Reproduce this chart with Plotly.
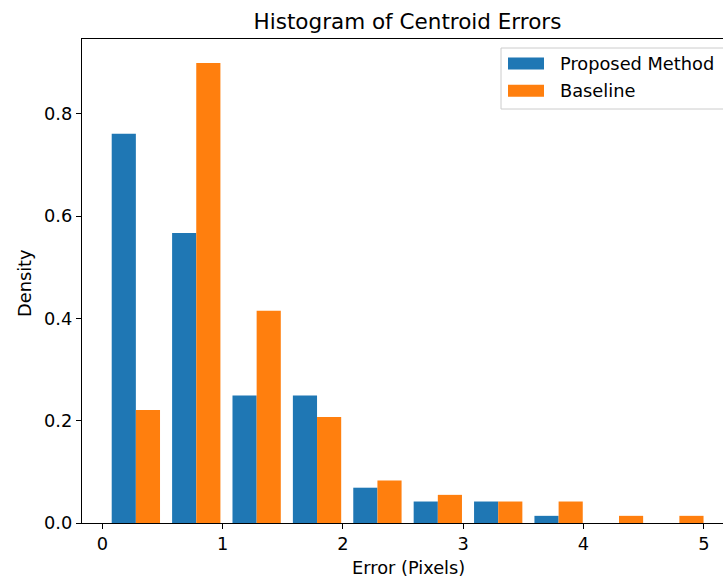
import plotly.graph_objects as go

# ---- data ----
bin_start = 0.028
bin_width = 0.502
n_bins = 10
proposed_density = [0.761, 0.567, 0.249, 0.249, 0.069, 0.042, 0.042, 0.014, 0.0, 0.0]
baseline_density = [0.221, 0.899, 0.415, 0.207, 0.083, 0.055, 0.042, 0.042, 0.014, 0.014]
series_names = ["Proposed Method", "Baseline"]
series_colors = ["#1f77b4", "#ff7f0e"]
x_ticks = [0, 1, 2, 3, 4, 5]
y_ticks = [0.0, 0.2, 0.4, 0.6, 0.8]

centers = [bin_start + (i + 0.5) * bin_width for i in range(n_bins)]

W, H = 723, 579
L, R, T, B = 82, 723, 39, 523
FONT = "DejaVu Sans"
FS = 17.8

def px(X):
    return (X - L) / (R - L)

def py(Y):
    return (B - Y) / (B - T)

fig = go.Figure()
for vals, name, col, off in [
    (proposed_density, series_names[0], series_colors[0], -0.4),
    (baseline_density, series_names[1], series_colors[1], 0.0),
]:
    fig.add_trace(go.Bar(
        x=centers, y=vals, name=name,
        width=[0.4 * bin_width] * n_bins,
        offset=[off * bin_width] * n_bins,
        marker=dict(color=col, line=dict(width=0)),
        showlegend=False,
    ))

ax_common = dict(
    showgrid=False, zeroline=False, showline=True, linecolor="black", linewidth=1.2,
    ticks="outside", ticklen=5, tickwidth=1.2, tickcolor="black",
    tickfont=dict(family=FONT, size=FS, color="black"),
)
fig.update_layout(
    width=W, height=H,
    margin=dict(l=L, r=W - R, t=T, b=H - B),
    paper_bgcolor="white", plot_bgcolor="white",
    barmode="overlay",
    font=dict(family=FONT, color="black"),
    title=dict(text="Histogram of Centroid Errors", x=(L + 733) / 2 / W, xanchor="center",
               y=1 - 21 / H, yanchor="middle", yref="container",
               font=dict(family=FONT, size=21.5, color="black")),
    xaxis=dict(range=[(L - 102.3) / 120.3, (R - 102.3) / 120.3], tickvals=x_ticks,
               mirror=True, **ax_common),
    yaxis=dict(range=[0, 0.946], tickvals=y_ticks, tickformat=".1f", mirror=False, **ax_common),
)

ann = []
ann.append(dict(text="Error (Pixels)", xref="paper", yref="paper", x=px(408), y=py(567.5),
                showarrow=False, xanchor="center", yanchor="middle",
                font=dict(family=FONT, size=FS, color="black")))
ann.append(dict(text="Density", xref="paper", yref="paper", x=px(24), y=py(283),
                showarrow=False, xanchor="center", yanchor="middle", textangle=-90,
                font=dict(family=FONT, size=FS, color="black")))

shapes = []
# legend box
shapes.append(dict(type="rect", xref="paper", yref="paper", x0=px(501), x1=px(770),
                   y0=py(109), y1=py(48), line=dict(color="#cccccc", width=1),
                   fillcolor="rgba(255,255,255,0.8)", layer="above"))
for i, (name, col) in enumerate(zip(series_names, series_colors)):
    yc = 63.5 + i * 27.3
    shapes.append(dict(type="rect", xref="paper", yref="paper", x0=px(508), x1=px(544),
                       y0=py(yc + 6), y1=py(yc - 6), line=dict(width=0),
                       fillcolor=col, layer="above"))
    ann.append(dict(text=name, xref="paper", yref="paper", x=px(558), y=py(yc),
                    showarrow=False, xanchor="left", yanchor="middle",
                    font=dict(family=FONT, size=FS, color="black")))

fig.update_layout(annotations=ann, shapes=shapes)
fig.write_html("out.html")
